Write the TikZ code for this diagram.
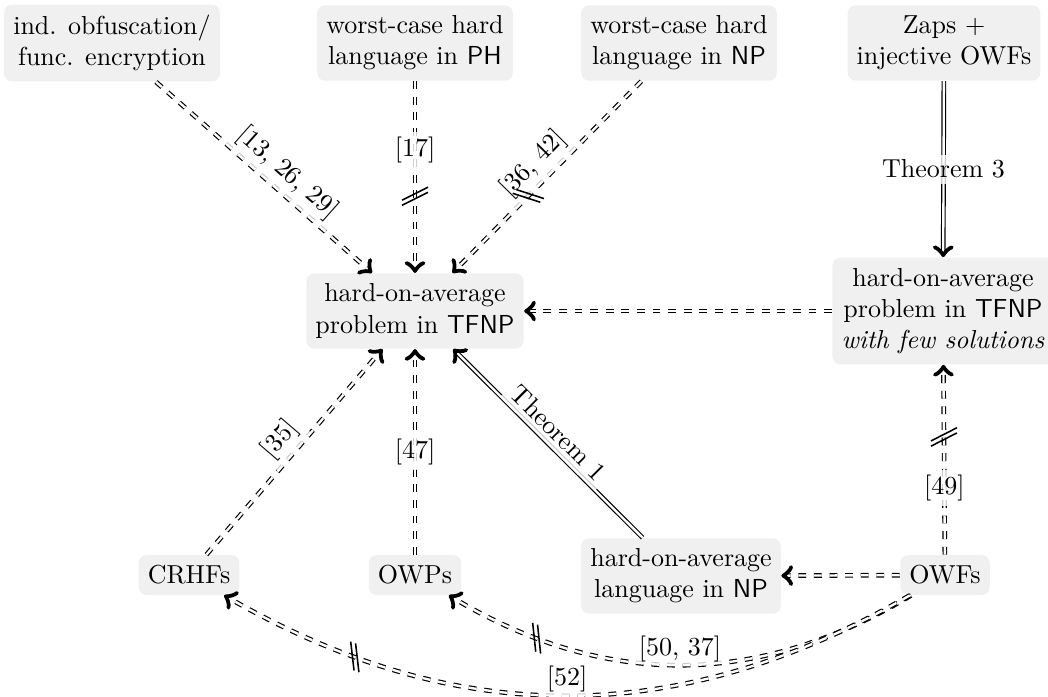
\documentclass[tikz,border=0pt]{standalone}
\usetikzlibrary{decorations.markings}
\tikzset{
  box/.style={fill=black!6, rounded corners=3pt, align=center, inner xsep=3.5pt, inner ysep=4pt},
  dbl/.style={line width=0.45pt, double, double distance=0.9pt, dashed, ->},
  thm/.style={line width=0.45pt, double, double distance=0.9pt, ->},
  lbl/.style={fill=white, fill opacity=0.8, text opacity=1, inner sep=2pt},
  negmark/.style={decorate, decoration={markings, mark=at position #1 with
    {\draw[line width=0.6pt, solid] (1.5pt,-5pt) -- (-3.5pt,5pt) (3.5pt,-5pt) -- (-1.5pt,5pt);}}},
}
\begin{document}
\begin{tikzpicture}[x=0.3846pt, y=-0.3846pt]
\useasboundingbox (0,0) rectangle (1048,697);

% sources and targets
\node[box] (obf)   at (112,43)  {ind. obfuscation/\\func. encryption};
\node[box] (PH)    at (415,43)  {worst-case hard\\language in \textsf{PH}};
\node[box] (NPw)   at (679,43)  {worst-case hard\\language in \textsf{NP}};
\node[box] (zaps)  at (944,43)  {Zaps $+$\\injective OWFs};
\node[box] (TFNP)  at (415,311) {hard-on-average\\problem in \textsf{TFNP}};
\node[box] (few)   at (943,311) {hard-on-average\\problem in \textsf{TFNP}\\\textit{with few solutions}};
\node[box] (CRHF)  at (189,575) {CRHFs};
\node[box] (OWP)   at (415,575) {OWPs};
\node[box] (NPavg) at (681,576) {hard-on-average\\language in \textsf{NP}};
\node[box] (OWF)   at (945,575) {OWFs};

% implications into TFNP
\draw[dbl] (obf) -- node[lbl, sloped, above, pos=0.55] {[13, 26, 29]} (TFNP);
\draw[dbl] (PH) -- node[lbl, pos=0.36] {[17]} (TFNP);
\path[negmark=0.6] (PH) -- (TFNP);
\draw[dbl] (NPw) -- node[lbl, sloped, above, pos=0.5] {[36, 42]} (TFNP);
\path[negmark=0.6] (NPw) -- (TFNP);
\draw[thm] (zaps) -- node[lbl] {Theorem 3} (few);
\draw[dbl] (few) -- (TFNP);
\draw[dbl] (CRHF) -- node[lbl, sloped, above] {[35]} (TFNP);
\draw[dbl] (OWP) -- node[lbl] {[47]} (TFNP);
\draw[thm] (NPavg) -- node[lbl, sloped, above] {Theorem 1} (TFNP);

% from one-way functions
\draw[dbl] (OWF) -- node[lbl, pos=0.35] {[49]} (few);
\path[negmark=0.62] (OWF) -- (few);
\draw[dbl] (OWF) -- (NPavg);
\draw[dbl] (OWF) to[bend left=31] node[lbl, above, inner sep=1pt] {[50, 37]} (OWP);
\path[negmark=0.8] (OWF) to[bend left=31] (OWP);
\draw[dbl] (OWF) to[bend left=30] node[lbl, above, inner sep=1pt] {[52]} (CRHF);
\path[negmark=0.8] (OWF) to[bend left=30] (CRHF);
\end{tikzpicture}
\end{document}
